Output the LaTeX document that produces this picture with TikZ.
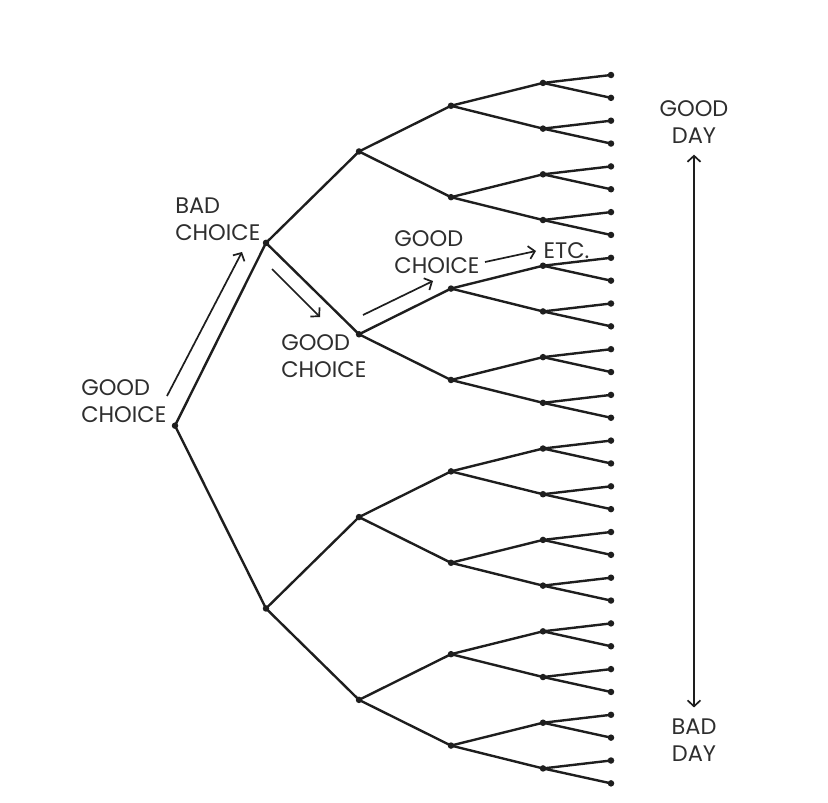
\documentclass[tikz,border=0pt]{standalone}
\usepackage{fontspec}
\setmainfont{Poppins}
\usepackage{xcolor}
\usepackage{tikz}
\usetikzlibrary{arrows.meta, positioning}

\definecolor{ink}{HTML}{1E1E1E}
\definecolor{txt}{HTML}{2E2E2E}

\begin{document}
\begin{tikzpicture}[
  x=1pt, y=-1pt,
  dot/.style  ={circle, fill=ink, inner sep=0pt, minimum size=6.5pt},
  edge/.style ={draw=ink, line width=2.4pt, line cap=round},
  lbl/.style  ={inner sep=0pt, align=left, text=txt,
                font=\fontsize{22.5}{27}\selectfont},
  daylbl/.style={inner sep=0pt, align=center, text=txt,
                font=\fontsize{22.5}{27}\selectfont},
  arr/.style  ={-{Straight Barb[length=6pt,width=13pt]}, draw=ink, line width=1.7pt},
  dayrange/.style={{Straight Barb[length=6pt,width=13pt]}-{Straight Barb[length=6pt,width=13pt]},
                draw=ink, line width=1.7pt, shorten <=11pt, shorten >=11pt}
]
\useasboundingbox (0,0) rectangle (828,803);
% ---- Tree nodes (level/x) --------------------------------------------------
\foreach \l/\x in {0/175, 1/266, 2/359, 3/451, 4/543, 5/611} {
  \pgfmathtruncatemacro\cnt{2^\l-1}
  \foreach \i in {0,...,\cnt} {
    \pgfmathsetmacro\y{75+22.85*(\i*2^(5-\l)+(2^(5-\l)-1)/2) - (\l<5 ? 3.5 : 0)}
    \node[dot] (n-\l-\i) at (\x,\y) {};
  }
}
% ---- Tree edges ------------------------------------------------------------
\foreach \l in {0,...,4} {
  \pgfmathtruncatemacro\nxt{\l+1}
  \pgfmathtruncatemacro\cnt{2^\l-1}
  \foreach \i in {0,...,\cnt} {
    \pgfmathtruncatemacro\a{2*\i}
    \pgfmathtruncatemacro\b{2*\i+1}
    \draw[edge] (n-\l-\i.center) -- (n-\nxt-\a.center);
    \draw[edge] (n-\l-\i.center) -- (n-\nxt-\b.center);
  }
}
% ---- Choice labels ---------------------------------------------------------
\node[lbl, above left=0pt and 6pt of n-0-0]   (good1) {GOOD\\CHOICE};
\node[lbl, above left=0pt and 3pt of n-1-0]   (bad1)  {BAD\\CHOICE};
\node[lbl, below left=-2pt and -10pt of n-2-1] (good2) {GOOD\\CHOICE};
\node[lbl, above=11pt of n-3-2, xshift=-14pt] (good3) {GOOD\\CHOICE};
\node[lbl, above right=4pt and -2pt of n-4-4] (etc)   {ETC.};
% ---- Path arrows -----------------------------------------------------------
\coordinate (a1s) at (167,396);  \coordinate (a1e) at (242,252);
\coordinate (a2s) at (272,269);  \coordinate (a2e) at (320,317);
\coordinate (a3s) at (363,315);  \coordinate (a3e) at (433,281);
\coordinate (a4s) at (485,262);  \coordinate (a4e) at (536,251);
\draw[arr] (a1s) -- (a1e);
\draw[arr] (a2s) -- (a2e);
\draw[arr] (a3s) -- (a3e);
\draw[arr] (a4s) -- (a4e);
% ---- Good day / bad day scale ----------------------------------------------
\node[daylbl] (gday) at (694,122) {GOOD\\DAY};
\node[daylbl] (bday) at (694,740) {BAD\\DAY};
\draw[dayrange] (gday.south) -- (bday.north);
\end{tikzpicture}
\end{document}
